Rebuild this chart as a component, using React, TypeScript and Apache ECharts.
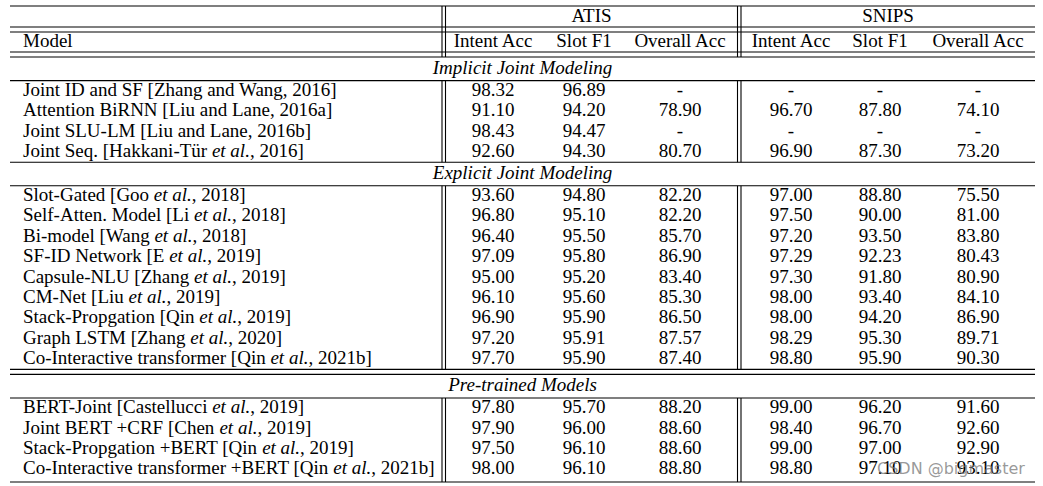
import React, { useEffect, useRef } from "react";
import * as echarts from "echarts";

// ---------------- data ----------------
const datasets = ["ATIS", "SNIPS"];
const metrics = ["Intent Acc", "Slot F1", "Overall Acc"];
const modelHeader = "Model";
const sectionTitles = ["Implicit Joint Modeling", "Explicit Joint Modeling", "Pre-trained Models"];

const implicitModels = [
  "Joint ID and SF [Zhang and Wang, 2016]",
  "Attention BiRNN [Liu and Lane, 2016a]",
  "Joint SLU-LM [Liu and Lane, 2016b]",
  "Joint Seq. [Hakkani-Tür et al., 2016]",
];
const explicitModels = [
  "Slot-Gated [Goo et al., 2018]",
  "Self-Atten. Model [Li et al., 2018]",
  "Bi-model [Wang et al., 2018]",
  "SF-ID Network [E et al., 2019]",
  "Capsule-NLU [Zhang et al., 2019]",
  "CM-Net [Liu et al., 2019]",
  "Stack-Propgation [Qin et al., 2019]",
  "Graph LSTM [Zhang et al., 2020]",
  "Co-Interactive transformer [Qin et al., 2021b]",
];
const pretrainedModels = [
  "BERT-Joint [Castellucci et al., 2019]",
  "Joint BERT +CRF [Chen et al., 2019]",
  "Stack-Propgation +BERT [Qin et al., 2019]",
  "Co-Interactive transformer +BERT [Qin et al., 2021b]",
];

const atisIntent = [98.32, 91.1, 98.43, 92.6, 93.6, 96.8, 96.4, 97.09, 95.0, 96.1, 96.9, 97.2, 97.7, 97.8, 97.9, 97.5, 98.0];
const atisSlot = [96.89, 94.2, 94.47, 94.3, 94.8, 95.1, 95.5, 95.8, 95.2, 95.6, 95.9, 95.91, 95.9, 95.7, 96.0, 96.1, 96.1];
const atisOverall = [null, 78.9, null, 80.7, 82.2, 82.2, 85.7, 86.9, 83.4, 85.3, 86.5, 87.57, 87.4, 88.2, 88.6, 88.6, 88.8];
const snipsIntent = [null, 96.7, null, 96.9, 97.0, 97.5, 97.2, 97.29, 97.3, 98.0, 98.0, 98.29, 98.8, 99.0, 98.4, 99.0, 98.8];
const snipsSlot = [null, 87.8, null, 87.3, 88.8, 90.0, 93.5, 92.23, 91.8, 93.4, 94.2, 95.3, 95.9, 96.2, 96.7, 97.0, 97.1];
const snipsOverall = [null, 74.1, null, 73.2, 75.5, 81.0, 83.8, 80.43, 80.9, 84.1, 86.9, 89.71, 90.3, 91.6, 92.6, 92.9, 93.1];

const watermarkText = "CSDN @bigmaster";

// ---------------- layout ----------------
const W = 1043;
const H = 486;
const FONT_FAMILY = "'Liberation Serif', 'Times New Roman', serif";
const FONT_SIZE = 19;
const TABLE_X0 = 10;
const TABLE_X1 = 1035;
const MODEL_X = 23;
const VLINE_PAIRS = [
  [442, 445.5],
  [737.5, 741],
];
const COL_CENTERS = [493, 584, 680, 791, 880, 978];
const TOP = 6;
const HEAD1_H = 21;
const HEAD2_H = 20;
const SECTION_H = 23.6;
const ROW_H = 20.4;
const DOUBLE_GAP = 5;
const BOTTOM_PAD = 2.4;
const TEXT_SHIFT = -1.5;

type Cell = { x: number; y: number; text: string; align: "left" | "center"; italic?: boolean };

const sections = [implicitModels, explicitModels, pretrainedModels];
const doubleAfter = [false, true, false];
const valueCols = [atisIntent, atisSlot, atisOverall, snipsIntent, snipsSlot, snipsOverall];

function richName(name: string): string {
  const parts = name.split("et al.");
  if (parts.length === 1) return `{n|${name}}`;
  return parts.map((p) => (p ? `{n|${p}}` : "")).join("{i|et al.}");
}

const cells: Cell[] = [];
const hRules: number[] = [];
const vSpans: number[][] = [];
(() => {
  let y = TOP;
  hRules.push(y);
  const h1 = y;
  y += HEAD1_H;
  datasets.forEach((d, k) => {
    const left = VLINE_PAIRS[k][1];
    const right = k + 1 < VLINE_PAIRS.length ? VLINE_PAIRS[k + 1][0] : TABLE_X1;
    cells.push({ x: (left + right) / 2, y: h1 + HEAD1_H / 2, text: d, align: "center" });
  });
  hRules.push(y);
  y += DOUBLE_GAP;
  hRules.push(y);
  const h2 = y;
  y += HEAD2_H;
  cells.push({ x: MODEL_X, y: h2 + HEAD2_H / 2, text: modelHeader, align: "left" });
  datasets.forEach((_, k) =>
    metrics.forEach((m, j) =>
      cells.push({ x: COL_CENTERS[k * metrics.length + j], y: h2 + HEAD2_H / 2, text: m, align: "center" })
    )
  );
  hRules.push(y);
  y += DOUBLE_GAP;
  hRules.push(y);
  vSpans.push([TOP, y]);
  let idx = 0;
  sections.forEach((models, s) => {
    const st = y;
    y += SECTION_H;
    cells.push({ x: (TABLE_X0 + TABLE_X1) / 2, y: st + SECTION_H / 2, text: sectionTitles[s], align: "center", italic: true });
    hRules.push(y);
    const spanTop = y;
    models.forEach((name) => {
      const rt = y;
      y += ROW_H;
      const cy = rt + ROW_H / 2;
      cells.push({ x: MODEL_X, y: cy, text: richName(name), align: "left" });
      valueCols.forEach((col, c) => {
        const v = col[idx];
        cells.push({ x: COL_CENTERS[c], y: cy, text: v == null ? "-" : v.toFixed(2), align: "center" });
      });
      idx++;
    });
    if (s === sections.length - 1) y += BOTTOM_PAD;
    hRules.push(y);
    vSpans.push([spanTop, y]);
    if (doubleAfter[s]) {
      y += DOUBLE_GAP;
      hRules.push(y);
    }
  });
})();

const vLines: number[][] = [];
vSpans.forEach(([a, b]) => VLINE_PAIRS.forEach((p) => p.forEach((x) => vLines.push([x, a, b]))));

const RICH = {
  n: { fontFamily: FONT_FAMILY, fontSize: FONT_SIZE, fontStyle: "normal", fill: "#000" },
  i: { fontFamily: FONT_FAMILY, fontSize: FONT_SIZE, fontStyle: "italic", fill: "#000" },
};

export default function App() {
  const ref = useRef<HTMLDivElement>(null);
  useEffect(() => {
    const chart = echarts.init(ref.current!, null, { renderer: "svg" });
    chart.setOption({
      animation: false,
      backgroundColor: "#fff",
      grid: { left: 0, right: 0, top: 0, bottom: 0 },
      xAxis: { type: "value", min: 0, max: W, show: false },
      yAxis: { type: "value", min: 0, max: H, inverse: true, show: false },
      series: [
        {
          type: "custom",
          name: "hrules",
          silent: true,
          data: hRules.map((y) => [TABLE_X0, y, TABLE_X1]),
          renderItem: (_p: any, api: any) => {
            const a = api.coord([api.value(0), api.value(1)]);
            const b = api.coord([api.value(2), api.value(1)]);
            return {
              type: "line",
              shape: { x1: a[0], y1: a[1], x2: b[0], y2: b[1] },
              style: { stroke: "#000", lineWidth: 1.1 },
            };
          },
        },
        {
          type: "custom",
          name: "vrules",
          silent: true,
          data: vLines,
          renderItem: (_p: any, api: any) => {
            const a = api.coord([api.value(0), api.value(1)]);
            const b = api.coord([api.value(0), api.value(2)]);
            return {
              type: "line",
              shape: { x1: a[0], y1: a[1], x2: b[0], y2: b[1] },
              style: { stroke: "#000", lineWidth: 1.1 },
            };
          },
        },
        {
          type: "custom",
          name: "cells",
          silent: true,
          data: cells.map((c, i) => [c.x, c.y, i]),
          renderItem: (_p: any, api: any) => {
            const c = cells[api.value(2)];
            const pt = api.coord([api.value(0), api.value(1)]);
            return {
              type: "text",
              x: pt[0],
              y: pt[1] + TEXT_SHIFT,
              style: {
                text: c.text,
                fill: "#000",
                fontFamily: FONT_FAMILY,
                fontSize: FONT_SIZE,
                fontStyle: c.italic ? "italic" : "normal",
                align: c.align,
                verticalAlign: "middle",
                rich: RICH,
              },
            };
          },
        },
      ],
      graphic: [
        {
          type: "text",
          x: 877,
          y: 468,
          z: 100,
          style: {
            text: watermarkText,
            fill: "rgba(120,120,120,0.75)",
            fontFamily: "'DejaVu Sans', sans-serif",
            fontSize: 16,
            verticalAlign: "middle",
          },
        },
      ],
    });
    return () => chart.dispose();
  }, []);
  return (
    <div
      ref={ref}
      style={{ position: "absolute", left: 0, top: 0, width: W, height: H, background: "#fff" }}
    />
  );
}
